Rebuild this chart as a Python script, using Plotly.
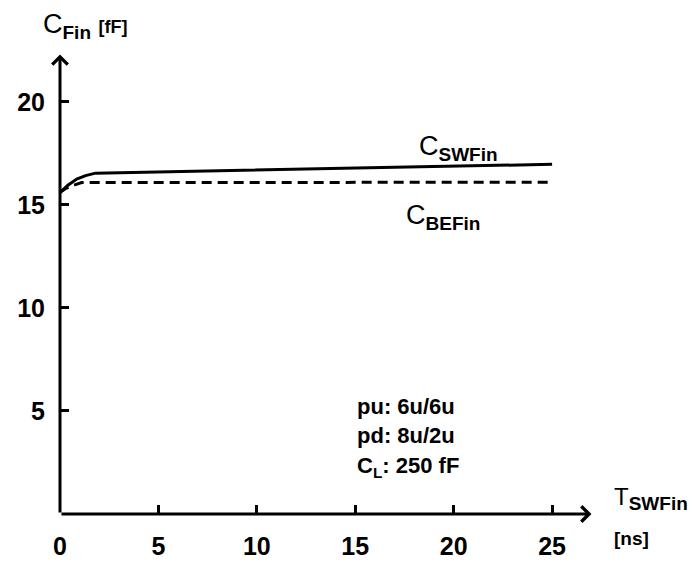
import plotly.graph_objects as go

# Data
x_sw = [0, 0.4, 0.85, 1.3, 1.8, 25]
y_sw = [15.6, 15.95, 16.25, 16.42, 16.54, 16.97]
x_be = [0, 0.3, 0.6, 1.1, 25]
y_be = [15.6, 15.8, 15.92, 16.08, 16.1]

x_ticks = [0, 5, 10, 15, 20, 25]
y_ticks = [5, 10, 15, 20]

FONT = "Liberation Sans"
INK = "#000000"

fig = go.Figure()
fig.add_trace(go.Scatter(x=x_sw, y=y_sw, mode="lines",
                         line=dict(color=INK, width=3), showlegend=False))
fig.add_trace(go.Scatter(x=x_be, y=y_be, mode="lines",
                         line=dict(color=INK, width=3, dash="10px,6px"), showlegend=False))

axis_common = dict(showgrid=False, zeroline=False, showline=False, automargin=False,
                   ticks="inside", ticklen=9, tickwidth=2.5, tickcolor=INK,
                   tickfont=dict(family=FONT, size=25, color=INK, weight="bold"))

fig.update_xaxes(range=[0, 28.5], tickvals=x_ticks, ticktext=[str(v) for v in x_ticks],
                 ticklabelstandoff=15, **axis_common)
fig.update_yaxes(range=[0, 23], tickvals=y_ticks, ticktext=[str(v) for v in y_ticks],
                 ticklabelstandoff=14, **axis_common)

# axis arrows
fig.add_annotation(x=27, y=0, ax=0, ay=0, xref="x", yref="y", axref="x", ayref="y",
                   text="", showarrow=True, arrowhead=4, arrowwidth=3, arrowsize=1,
                   arrowcolor=INK)
fig.add_annotation(x=0, y=22.3, ax=0, ay=0, xref="x", yref="y", axref="x", ayref="y",
                   text="", showarrow=True, arrowhead=4, arrowwidth=3, arrowsize=1,
                   arrowcolor=INK)

lab = dict(family=FONT, size=27, color=INK)
sub = "<span style='font-size:19px;font-weight:bold'>{}</span>"
fig.add_annotation(x=20.25, y=17.75, xref="x", yref="y", showarrow=False,
                   text="C<sub>" + sub.format("SWFin") + "</sub>", font=lab)
fig.add_annotation(x=19.45, y=14.4, xref="x", yref="y", showarrow=False,
                   text="C<sub>" + sub.format("BEFin") + "</sub>", font=lab)
fig.add_annotation(x=0.046, y=1.03, xref="paper", yref="paper", showarrow=False,
                   xanchor="center", yanchor="middle",
                   text="C<sub>" + sub.format("Fin") + "</sub> "
                        "<span style='font-size:18px;font-weight:bold'>[fF]</span>",
                   font=lab)
fig.add_annotation(x=0.984, y=-0.005, xref="paper", yref="paper", showarrow=False,
                   xanchor="left", text="T<sub>" + sub.format("SWFin") + "</sub>",
                   font=dict(family=FONT, size=24, color=INK))
fig.add_annotation(x=0.984, y=-0.078, xref="paper", yref="paper", showarrow=False,
                   xanchor="left", text="[ns]",
                   font=dict(family=FONT, size=19, color=INK, weight="bold"))

note = dict(family=FONT, size=22, color=INK, weight="bold")
fig.add_annotation(x=15.0, y=5.24, xref="x", yref="y", showarrow=False, xanchor="left",
                   text="pu: 6u/6u", font=note)
fig.add_annotation(x=15.0, y=3.79, xref="x", yref="y", showarrow=False, xanchor="left",
                   text="pd: 8u/2u", font=note)
fig.add_annotation(x=15.0, y=2.3, xref="x", yref="y", showarrow=False, xanchor="left",
                   text="C<sub>L</sub>: 250 fF", font=note)

# the page body adds an 8px offset, so margins are reduced accordingly
fig.update_layout(width=697, height=563, margin=dict(l=52, r=84, t=32, b=57),
                  paper_bgcolor="white", plot_bgcolor="white",
                  font=dict(family=FONT, color=INK))

fig.write_html("out.html")
